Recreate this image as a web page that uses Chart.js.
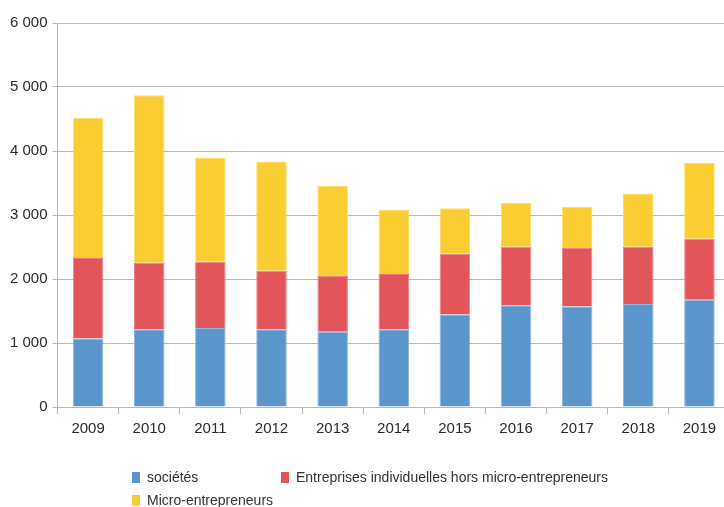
<!DOCTYPE html>
<html>
<head>
<meta charset="utf-8">
<script src="https://cdn.jsdelivr.net/npm/chart.js@4.4.1/dist/chart.umd.min.js"></script>
<style>
  html, body { margin: 0; padding: 0; background: #fff; overflow: hidden; }
  #wrap { position: relative; width: 730px; height: 507px; }
  #legend {
    position: absolute; left: 132px; top: 469px;
    display: grid; grid-template-columns: 149px auto; grid-auto-rows: 23px;
    font: 14px "Liberation Sans", Arial, sans-serif; color: #333;
    line-height: 17px;
  }
  #legend .item { display: flex; align-items: flex-start; white-space: nowrap; }
  #legend .box { width: 8px; height: 11px; margin-top: 3px; margin-right: 7px; flex: none; }
</style>
</head>
<body>
<div id="wrap">
  <canvas id="chart"></canvas>
  <div id="legend"></div>
</div>
<script>
// categories and series
const years = ["2009", "2010", "2011", "2012", "2013", "2014", "2015", "2016", "2017", "2018", "2019"];
const societes = [1070, 1215, 1235, 1215, 1175, 1215, 1445, 1590, 1570, 1610, 1675];
const entreprisesIndiv = [1270, 1040, 1040, 915, 870, 875, 955, 915, 915, 895, 955];
const microEntrepreneurs = [2180, 2615, 1615, 1705, 1410, 995, 705, 685, 640, 830, 1185];
const yTicks = [0, 1000, 2000, 3000, 4000, 5000, 6000];

const FONT = "'Liberation Sans', Arial, sans-serif";
const GRID = "#b8b8b8";

const series = [
  { label: "sociétés", data: societes, color: "#5a96cc", edge: "#8db6de" },
  { label: "Entreprises individuelles hors micro-entrepreneurs", data: entreprisesIndiv, color: "#e2565b", edge: "#ea8488" },
  { label: "Micro-entrepreneurs", data: microEntrepreneurs, color: "#face32", edge: "#fbdd6e" }
];

const chart = new Chart(document.getElementById("chart"), {
  type: "bar",
  data: {
    labels: years,
    datasets: series.map(s => ({
      label: s.label,
      data: s.data,
      backgroundColor: s.color,
      borderColor: s.edge,
      borderWidth: 1,
      barPercentage: 0.5,
      categoryPercentage: 1.0
    }))
  },
  options: {
    responsive: true,
    maintainAspectRatio: false,
    animation: false,
    layout: { padding: { top: 23, left: 5, right: 0, bottom: 63 } },
    plugins: {
      legend: { display: false },
      tooltip: { enabled: false }
    },
    scales: {
      x: {
        stacked: true,
        offset: true,
        grid: { offset: true, drawOnChartArea: false, color: GRID, tickLength: 7 },
        border: { color: GRID },
        ticks: { color: "#2b2b2b", padding: 6, font: { family: FONT, size: 15 } }
      },
      y: {
        stacked: true,
        min: 0,
        max: 6000,
        afterBuildTicks: axis => { axis.ticks = yTicks.map(v => ({ value: v })); },
        grid: { color: GRID, tickLength: 5 },
        border: { color: GRID },
        ticks: {
          color: "#2b2b2b",
          padding: 5,
          font: { family: FONT, size: 15 },
          callback: v => v.toLocaleString("fr-FR").replace(/\s/g, " ")
        }
      }
    }
  }
});

const legend = document.getElementById("legend");
series.forEach(s => {
  const item = document.createElement("div");
  item.className = "item";
  const box = document.createElement("span");
  box.className = "box";
  box.style.background = s.color;
  const text = document.createElement("span");
  text.textContent = s.label;
  item.appendChild(box);
  item.appendChild(text);
  legend.appendChild(item);
});
</script>
</body>
</html>
